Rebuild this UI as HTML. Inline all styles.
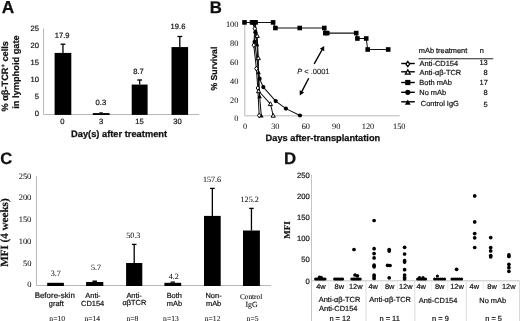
<!DOCTYPE html>
<html><head><meta charset="utf-8"><style>
html,body{margin:0;padding:0;background:#fff;}
svg{display:block;text-rendering:geometricPrecision;will-change:transform;}
</style></head><body>
<svg width="520" height="321" viewBox="0 0 520 321">
<rect width="520" height="321" fill="#fff"/>
<text x="1.87" y="13.42" font-family="Liberation Sans, sans-serif" font-size="17.3" font-weight="bold" fill="#111" stroke="#111" stroke-width="0.25" >A</text>
<line x1="43.5" y1="28.5" x2="43.5" y2="114.5" stroke="#b8b8b8" stroke-width="1"/>
<line x1="43.5" y1="114.5" x2="199.2" y2="114.5" stroke="#b8b8b8" stroke-width="1"/>
<text x="30.57" y="30.87" font-family="Liberation Sans, sans-serif" font-size="7.6" font-weight="normal" fill="#111" stroke="#111" stroke-width="0.2" >25</text>
<text x="30.53" y="47.97" font-family="Liberation Sans, sans-serif" font-size="7.6" font-weight="normal" fill="#111" stroke="#111" stroke-width="0.2" >20</text>
<text x="30.57" y="65.03" font-family="Liberation Sans, sans-serif" font-size="7.6" font-weight="normal" fill="#111" stroke="#111" stroke-width="0.2" >15</text>
<text x="30.53" y="82.17" font-family="Liberation Sans, sans-serif" font-size="7.6" font-weight="normal" fill="#111" stroke="#111" stroke-width="0.2" >10</text>
<text x="34.79" y="99.23" font-family="Liberation Sans, sans-serif" font-size="7.6" font-weight="normal" fill="#111" stroke="#111" stroke-width="0.2" >5</text>
<text x="34.75" y="116.37" font-family="Liberation Sans, sans-serif" font-size="7.6" font-weight="normal" fill="#111" stroke="#111" stroke-width="0.2" >0</text>
<rect x="54.6" y="52.92" width="16.7" height="61.98" fill="#000"/>
<line x1="62.95" y1="52.92" x2="62.95" y2="44.2" stroke="#000" stroke-width="1.3"/>
<line x1="60.55" y1="44.2" x2="65.35" y2="44.2" stroke="#000" stroke-width="1.3"/>
<text x="54.7" y="37.72" font-family="Liberation Sans, sans-serif" font-size="7.6" font-weight="normal" fill="#111" stroke="#111" stroke-width="0.2" >17.9</text>
<text x="60.27" y="123.82" font-family="Liberation Sans, sans-serif" font-size="7.6" font-weight="normal" fill="#111" stroke="#111" stroke-width="0.2" >0</text>
<rect x="92.8" y="113.1" width="16.8" height="1.9" fill="#000"/>
<rect x="99.4" y="112.3" width="3.4" height="0.9" fill="#000"/>
<text x="95.57" y="105.42" font-family="Liberation Sans, sans-serif" font-size="7.6" font-weight="normal" fill="#111" stroke="#111" stroke-width="0.2" >0.3</text>
<text x="99.09" y="123.82" font-family="Liberation Sans, sans-serif" font-size="7.6" font-weight="normal" fill="#111" stroke="#111" stroke-width="0.2" >3</text>
<rect x="131.7" y="84.57" width="15.9" height="30.33" fill="#000"/>
<line x1="139.65" y1="84.57" x2="139.65" y2="80" stroke="#000" stroke-width="1.3"/>
<line x1="137.25" y1="80" x2="142.05" y2="80" stroke="#000" stroke-width="1.3"/>
<text x="133.29" y="74.12" font-family="Liberation Sans, sans-serif" font-size="7.6" font-weight="normal" fill="#111" stroke="#111" stroke-width="0.2" >8.7</text>
<text x="135.25" y="123.78" font-family="Liberation Sans, sans-serif" font-size="7.6" font-weight="normal" fill="#111" stroke="#111" stroke-width="0.2" >15</text>
<rect x="171.5" y="47.08" width="16.6" height="67.82" fill="#000"/>
<line x1="179.8" y1="47.08" x2="179.8" y2="36.5" stroke="#000" stroke-width="1.3"/>
<line x1="177.4" y1="36.5" x2="182.2" y2="36.5" stroke="#000" stroke-width="1.3"/>
<text x="170.58" y="29.17" font-family="Liberation Sans, sans-serif" font-size="7.6" font-weight="normal" fill="#111" stroke="#111" stroke-width="0.2" >19.6</text>
<text x="173.16" y="123.82" font-family="Liberation Sans, sans-serif" font-size="7.6" font-weight="normal" fill="#111" stroke="#111" stroke-width="0.2" >30</text>
<text x="71" y="136.6" font-family="Liberation Sans, sans-serif" font-size="9.3" font-weight="bold" fill="#111" stroke="#111" stroke-width="0.25" >Day(s) after treatment</text>
<text transform="translate(7.9,111.5) rotate(-90)" font-family="Liberation Sans, sans-serif" font-size="9.2" font-weight="bold" fill="#111" stroke="#111" stroke-width="0.2">% αβ-TCR<tspan font-size="6" dy="-3.2">+</tspan><tspan dy="3.2"> cells</tspan></text>
<text transform="translate(18.5,108.8) rotate(-90)" font-family="Liberation Sans, sans-serif" font-size="9.25" font-weight="bold" fill="#111" stroke="#111" stroke-width="0.2">in lymphoid gate</text>
<text x="209.68" y="13.4" font-family="Liberation Sans, sans-serif" font-size="16.8" font-weight="bold" fill="#111" stroke="#111" stroke-width="0.25" >B</text>
<line x1="244.8" y1="22.4" x2="244.8" y2="115.8" stroke="#b8b8b8" stroke-width="1"/>
<line x1="244.8" y1="115.8" x2="399.6" y2="115.8" stroke="#b8b8b8" stroke-width="1"/>
<text x="225.88" y="27.12" font-family="Liberation Serif, serif" font-size="8.3" font-weight="normal" fill="#111" stroke="#111" stroke-width="0.05" >100</text>
<text x="230.03" y="46.02" font-family="Liberation Serif, serif" font-size="8.3" font-weight="normal" fill="#111" stroke="#111" stroke-width="0.05" >80</text>
<text x="230.03" y="65.02" font-family="Liberation Serif, serif" font-size="8.3" font-weight="normal" fill="#111" stroke="#111" stroke-width="0.05" >60</text>
<text x="230.03" y="83.62" font-family="Liberation Serif, serif" font-size="8.3" font-weight="normal" fill="#111" stroke="#111" stroke-width="0.05" >40</text>
<text x="230.03" y="102.62" font-family="Liberation Serif, serif" font-size="8.3" font-weight="normal" fill="#111" stroke="#111" stroke-width="0.05" >20</text>
<text x="234.18" y="120.92" font-family="Liberation Serif, serif" font-size="8.3" font-weight="normal" fill="#111" stroke="#111" stroke-width="0.05" >0</text>
<text x="243.12" y="128.82" font-family="Liberation Serif, serif" font-size="8.3" font-weight="normal" fill="#111" stroke="#111" stroke-width="0.05" >0</text>
<text x="271.23" y="128.82" font-family="Liberation Serif, serif" font-size="8.3" font-weight="normal" fill="#111" stroke="#111" stroke-width="0.05" >30</text>
<text x="301.65" y="128.82" font-family="Liberation Serif, serif" font-size="8.3" font-weight="normal" fill="#111" stroke="#111" stroke-width="0.05" >60</text>
<text x="332.09" y="128.82" font-family="Liberation Serif, serif" font-size="8.3" font-weight="normal" fill="#111" stroke="#111" stroke-width="0.05" >90</text>
<text x="361.79" y="128.82" font-family="Liberation Serif, serif" font-size="8.3" font-weight="normal" fill="#111" stroke="#111" stroke-width="0.05" >120</text>
<text x="392.99" y="128.82" font-family="Liberation Serif, serif" font-size="8.3" font-weight="normal" fill="#111" stroke="#111" stroke-width="0.05" >150</text>
<text x="265.6" y="140.5" font-family="Liberation Sans, sans-serif" font-size="9.25" font-weight="bold" fill="#111" stroke="#111" stroke-width="0.25" >Days after-transplantation</text>
<text transform="translate(217.4,90.6) rotate(-90)" font-family="Liberation Sans, sans-serif" font-size="8.7" font-weight="bold" fill="#111" stroke="#111" stroke-width="0.2">% Survival</text>
<polyline points="244.5,22.4 252,22.4 253.8,22.4 255.6,22.4 273.1,22.4 275.4,28 299.7,28 324.3,28 325.3,33.1 327.2,33.1 356.2,33.1 357.4,38.5 366.2,38.5 367.7,49.5 388.2,49.5" fill="none" stroke="#111" stroke-width="1.05" stroke-linejoin="round"/>
<polyline points="244.5,22.4 252.5,22.4 254.8,28.7 253.8,45.2 256.4,68.6 257.8,88 259.2,115.5" fill="none" stroke="#111" stroke-width="1.05" stroke-linejoin="round"/>
<polyline points="244.5,22.4 253.5,22.4 255.4,32.2 254.6,41.9 259.6,78.7 263.3,87.1 275.7,101.1 285.9,108.6 300,115.5" fill="none" stroke="#111" stroke-width="1.05" stroke-linejoin="round"/>
<polyline points="244.5,22.4 255,22.4 257.2,35.7 258.3,58 258.6,91 270.4,103.9 273.2,115.5" fill="none" stroke="#111" stroke-width="1.05" stroke-linejoin="round"/>
<polyline points="244.5,22.4 254.5,22.4 257,44.4 258.6,72.4 259.6,96.4 261.3,115.7" fill="none" stroke="#111" stroke-width="1.05" stroke-linejoin="round"/>
<rect x="242.2" y="20.1" width="4.6" height="4.6" fill="#000"/>
<rect x="249.7" y="20.1" width="4.6" height="4.6" fill="#000"/>
<rect x="251.5" y="20.1" width="4.6" height="4.6" fill="#000"/>
<rect x="253.3" y="20.1" width="4.6" height="4.6" fill="#000"/>
<rect x="270.8" y="20.1" width="4.6" height="4.6" fill="#000"/>
<rect x="273.1" y="25.7" width="4.6" height="4.6" fill="#000"/>
<rect x="297.4" y="25.7" width="4.6" height="4.6" fill="#000"/>
<rect x="322" y="25.7" width="4.6" height="4.6" fill="#000"/>
<rect x="323" y="30.8" width="4.6" height="4.6" fill="#000"/>
<rect x="324.9" y="30.8" width="4.6" height="4.6" fill="#000"/>
<rect x="353.9" y="30.8" width="4.6" height="4.6" fill="#000"/>
<rect x="355.1" y="36.2" width="4.6" height="4.6" fill="#000"/>
<rect x="363.9" y="36.2" width="4.6" height="4.6" fill="#000"/>
<rect x="365.4" y="47.2" width="4.6" height="4.6" fill="#000"/>
<rect x="385.9" y="47.2" width="4.6" height="4.6" fill="#000"/>
<circle cx="255.4" cy="32.2" r="2.1" fill="#000"/>
<circle cx="254.6" cy="41.9" r="2.1" fill="#000"/>
<circle cx="259.6" cy="78.7" r="2.1" fill="#000"/>
<circle cx="263.3" cy="87.1" r="2.1" fill="#000"/>
<circle cx="275.7" cy="101.1" r="2.1" fill="#000"/>
<circle cx="285.9" cy="108.6" r="2.1" fill="#000"/>
<circle cx="300" cy="115.5" r="2.1" fill="#000"/>
<polygon points="257,42.12 259.28,46.3 254.72,46.3" fill="#000"/>
<polygon points="258.6,70.12 260.88,74.3 256.32,74.3" fill="#000"/>
<polygon points="259.6,94.12 261.88,98.3 257.32,98.3" fill="#000"/>
<polygon points="261.3,113.42 263.58,117.6 259.02,117.6" fill="#000"/>
<polygon points="257.2,33.61 259.29,37.41 255.11,37.41" fill="#fff" stroke="#000" stroke-width="1.0"/>
<polygon points="258.3,55.91 260.39,59.71 256.21,59.71" fill="#fff" stroke="#000" stroke-width="1.0"/>
<polygon points="258.6,88.91 260.69,92.71 256.51,92.71" fill="#fff" stroke="#000" stroke-width="1.0"/>
<polygon points="270.4,101.81 272.49,105.61 268.31,105.61" fill="#fff" stroke="#000" stroke-width="1.0"/>
<polygon points="273.2,113.41 275.29,117.21 271.11,117.21" fill="#fff" stroke="#000" stroke-width="1.0"/>
<polygon points="254.8,26.3 256.5,28.7 254.8,31.1 253.1,28.7" fill="#fff" stroke="#000" stroke-width="1.0"/>
<polygon points="253.8,42.8 255.5,45.2 253.8,47.6 252.1,45.2" fill="#fff" stroke="#000" stroke-width="1.0"/>
<polygon points="256.4,66.2 258.1,68.6 256.4,71 254.7,68.6" fill="#fff" stroke="#000" stroke-width="1.0"/>
<polygon points="257.8,85.6 259.5,88 257.8,90.4 256.1,88" fill="#fff" stroke="#000" stroke-width="1.0"/>
<polygon points="259.2,113.1 260.9,115.5 259.2,117.9 257.5,115.5" fill="#fff" stroke="#000" stroke-width="1.0"/>
<line x1="314.2" y1="63.9" x2="322.25" y2="49.49" stroke="#000" stroke-width="1.4"/>
<polygon points="324.2,46 324.19,51.15 319.82,48.71" fill="#000"/>
<line x1="308.7" y1="78.2" x2="301.64" y2="91.85" stroke="#000" stroke-width="1.4"/>
<polygon points="299.8,95.4 299.65,90.25 304.09,92.55" fill="#000"/>
<text x="297.2" y="73.8" font-family="Liberation Sans, sans-serif" font-size="7.5" fill="#111" stroke="#111" stroke-width="0.1"><tspan font-style="italic">P</tspan> &lt; .0001</text>
<text x="418.82" y="53.4" font-family="Liberation Sans, sans-serif" font-size="7.4" font-weight="normal" fill="#111" stroke="#111" stroke-width="0.2" >mAb treatment</text>
<text x="479.82" y="53.4" font-family="Liberation Sans, sans-serif" font-size="7.4" font-weight="normal" fill="#111" stroke="#111" stroke-width="0.2" >n</text>
<line x1="418.4" y1="58.8" x2="493.2" y2="58.8" stroke="#222" stroke-width="1.1"/>
<line x1="401.2" y1="63.5" x2="414.8" y2="63.5" stroke="#000" stroke-width="1.4"/>
<polygon points="407.8,61.46 409.67,64.1 407.8,66.74 405.93,64.1" fill="#fff" stroke="#000" stroke-width="1.3"/>
<text x="419.6" y="65.7" font-family="Liberation Sans, sans-serif" font-size="7.45" font-weight="normal" fill="#111" stroke="#111" stroke-width="0.2" >Anti-CD154</text>
<text x="479.43" y="65.27" font-family="Liberation Sans, sans-serif" font-size="7.45" font-weight="normal" fill="#111" stroke="#111" stroke-width="0.2" >13</text>
<line x1="401.2" y1="71.8" x2="414.8" y2="71.8" stroke="#000" stroke-width="1.4"/>
<polygon points="407.8,69.73 410.17,74.03 405.44,74.03" fill="#fff" stroke="#000" stroke-width="1.3"/>
<text x="419.6" y="74.9" font-family="Liberation Sans, sans-serif" font-size="7.45" font-weight="normal" fill="#111" stroke="#111" stroke-width="0.2" >Anti-αβ-TCR</text>
<text x="483.56" y="75.37" font-family="Liberation Sans, sans-serif" font-size="7.45" font-weight="normal" fill="#111" stroke="#111" stroke-width="0.2" >8</text>
<line x1="401.2" y1="82.5" x2="414.8" y2="82.5" stroke="#000" stroke-width="1.4"/>
<rect x="405.2" y="79.9" width="5.2" height="5.2" fill="#000"/>
<text x="419.3" y="84.6" font-family="Liberation Sans, sans-serif" font-size="7.45" font-weight="normal" fill="#111" stroke="#111" stroke-width="0.2" >Both mAb</text>
<text x="479.5" y="85.37" font-family="Liberation Sans, sans-serif" font-size="7.45" font-weight="normal" fill="#111" stroke="#111" stroke-width="0.2" >17</text>
<line x1="401.2" y1="92.3" x2="414.8" y2="92.3" stroke="#000" stroke-width="1.4"/>
<circle cx="407.8" cy="92.3" r="2.6" fill="#000"/>
<text x="419.3" y="94.7" font-family="Liberation Sans, sans-serif" font-size="7.45" font-weight="normal" fill="#111" stroke="#111" stroke-width="0.2" >No mAb</text>
<text x="483.56" y="95.17" font-family="Liberation Sans, sans-serif" font-size="7.45" font-weight="normal" fill="#111" stroke="#111" stroke-width="0.2" >8</text>
<line x1="401.2" y1="101.8" x2="414.8" y2="101.8" stroke="#000" stroke-width="1.4"/>
<polygon points="407.8,99.42 410.68,104.7 404.92,104.7" fill="#000"/>
<text x="420.83" y="106" font-family="Liberation Sans, sans-serif" font-size="7.45" font-weight="normal" fill="#111" stroke="#111" stroke-width="0.2" >Control IgG</text>
<text x="483.56" y="107.33" font-family="Liberation Sans, sans-serif" font-size="7.45" font-weight="normal" fill="#111" stroke="#111" stroke-width="0.2" >5</text>
<text x="0.29" y="163.99" font-family="Liberation Sans, sans-serif" font-size="16.5" font-weight="bold" fill="#111" stroke="#111" stroke-width="0.25" >C</text>
<line x1="36.5" y1="176.2" x2="36.5" y2="285.5" stroke="#b8b8b8" stroke-width="1"/>
<line x1="36.5" y1="285.5" x2="271.1" y2="285.5" stroke="#b8b8b8" stroke-width="1"/>
<text x="18.74" y="178.55" font-family="Liberation Serif, serif" font-size="8.4" font-weight="normal" fill="#111" stroke="#111" stroke-width="0.05" >250</text>
<text x="18.74" y="200.45" font-family="Liberation Serif, serif" font-size="8.4" font-weight="normal" fill="#111" stroke="#111" stroke-width="0.05" >200</text>
<text x="18.74" y="222.05" font-family="Liberation Serif, serif" font-size="8.4" font-weight="normal" fill="#111" stroke="#111" stroke-width="0.05" >150</text>
<text x="18.74" y="243.75" font-family="Liberation Serif, serif" font-size="8.4" font-weight="normal" fill="#111" stroke="#111" stroke-width="0.05" >100</text>
<text x="22.94" y="265.55" font-family="Liberation Serif, serif" font-size="8.4" font-weight="normal" fill="#111" stroke="#111" stroke-width="0.05" >50</text>
<text x="27.14" y="287.35" font-family="Liberation Serif, serif" font-size="8.4" font-weight="normal" fill="#111" stroke="#111" stroke-width="0.05" >0</text>
<text transform="translate(8.35,266.8) rotate(-90)" font-family="Liberation Serif, serif" font-size="11.1" font-weight="bold" fill="#111" stroke="#111" stroke-width="0.2">MFI (4 weeks)</text>
<rect x="47.2" y="282.8" width="16.7" height="3.2" fill="#000"/>
<text x="50.63" y="276.01" font-family="Liberation Serif, serif" font-size="8.1" font-weight="normal" fill="#111" stroke="#111" stroke-width="0.06" >3.7</text>
<rect x="86.1" y="282" width="17.2" height="4" fill="#000"/>
<rect x="92.5" y="280.5" width="4.4" height="1.5" fill="#000"/>
<text x="90.97" y="270.09" font-family="Liberation Serif, serif" font-size="8.1" font-weight="normal" fill="#111" stroke="#111" stroke-width="0.06" >5.7</text>
<rect x="126.1" y="263" width="16.2" height="23" fill="#000"/>
<line x1="134.2" y1="263" x2="134.2" y2="244.4" stroke="#000" stroke-width="1.3"/>
<line x1="131.9" y1="244.4" x2="136.5" y2="244.4" stroke="#000" stroke-width="1.3"/>
<text x="126.13" y="237.83" font-family="Liberation Serif, serif" font-size="8.1" font-weight="normal" fill="#111" stroke="#111" stroke-width="0.06" >50.3</text>
<rect x="164.4" y="282.8" width="16.8" height="3.2" fill="#000"/>
<rect x="170.6" y="281.5" width="4.4" height="1.3" fill="#000"/>
<text x="168.73" y="278.81" font-family="Liberation Serif, serif" font-size="8.1" font-weight="normal" fill="#111" stroke="#111" stroke-width="0.06" >4.2</text>
<rect x="204" y="215.9" width="16.7" height="70.1" fill="#000"/>
<line x1="212.35" y1="215.9" x2="212.35" y2="188.4" stroke="#000" stroke-width="1.3"/>
<line x1="210.05" y1="188.4" x2="214.65" y2="188.4" stroke="#000" stroke-width="1.3"/>
<text x="202.96" y="182.06" font-family="Liberation Serif, serif" font-size="8.1" font-weight="normal" fill="#111" stroke="#111" stroke-width="0.06" >157.6</text>
<rect x="243" y="230.5" width="16.9" height="55.5" fill="#000"/>
<line x1="251.45" y1="230.5" x2="251.45" y2="208.4" stroke="#000" stroke-width="1.3"/>
<line x1="249.15" y1="208.4" x2="253.75" y2="208.4" stroke="#000" stroke-width="1.3"/>
<text x="240.57" y="201.61" font-family="Liberation Serif, serif" font-size="8.1" font-weight="normal" fill="#111" stroke="#111" stroke-width="0.06" >125.2</text>
<text x="34.66" y="297.84" font-family="Liberation Sans, sans-serif" font-size="7.943" font-weight="normal" fill="#111" stroke="#111" stroke-width="0.2" >Before-skin</text>
<text x="48.87" y="305.92" font-family="Liberation Sans, sans-serif" font-size="7.45" font-weight="normal" fill="#111" stroke="#111" stroke-width="0.2" >graft</text>
<text x="85.29" y="297.66" font-family="Liberation Sans, sans-serif" font-size="7.45" font-weight="normal" fill="#111" stroke="#111" stroke-width="0.2" >Anti-</text>
<text x="81.04" y="305.77" font-family="Liberation Sans, sans-serif" font-size="7.45" font-weight="normal" fill="#111" stroke="#111" stroke-width="0.2" >CD154</text>
<text x="126.39" y="297.66" font-family="Liberation Sans, sans-serif" font-size="7.45" font-weight="normal" fill="#111" stroke="#111" stroke-width="0.2" >Anti-</text>
<text x="122.43" y="305.12" font-family="Liberation Sans, sans-serif" font-size="7.45" font-weight="normal" fill="#111" stroke="#111" stroke-width="0.2" >αβTCR</text>
<text x="166.64" y="297.66" font-family="Liberation Sans, sans-serif" font-size="7.45" font-weight="normal" fill="#111" stroke="#111" stroke-width="0.2" >Both</text>
<text x="166.8" y="306.46" font-family="Liberation Sans, sans-serif" font-size="7.45" font-weight="normal" fill="#111" stroke="#111" stroke-width="0.2" >mAb</text>
<text x="205.49" y="297.53" font-family="Liberation Sans, sans-serif" font-size="7.45" font-weight="normal" fill="#111" stroke="#111" stroke-width="0.2" >Non-</text>
<text x="205.95" y="306.46" font-family="Liberation Sans, sans-serif" font-size="7.45" font-weight="normal" fill="#111" stroke="#111" stroke-width="0.2" >mAb</text>
<text x="240.01" y="298.79" font-family="Liberation Serif, serif" font-size="7.267" font-weight="normal" fill="#111" stroke="#111" stroke-width="0.1" >Control</text>
<text x="245.42" y="307.34" font-family="Liberation Serif, serif" font-size="7.8" font-weight="normal" fill="#111" stroke="#111" stroke-width="0.1" >IgG</text>
<text x="49.33" y="321.09" font-family="Liberation Serif, serif" font-size="7.6" font-weight="normal" fill="#111" stroke="#111" stroke-width="0.05" >n=10</text>
<text x="84.48" y="321.11" font-family="Liberation Serif, serif" font-size="7.6" font-weight="normal" fill="#111" stroke="#111" stroke-width="0.05" >n=14</text>
<text x="126.38" y="321.09" font-family="Liberation Serif, serif" font-size="7.6" font-weight="normal" fill="#111" stroke="#111" stroke-width="0.05" >n=8</text>
<text x="163.08" y="321.07" font-family="Liberation Serif, serif" font-size="7.6" font-weight="normal" fill="#111" stroke="#111" stroke-width="0.05" >n=13</text>
<text x="204.79" y="321.11" font-family="Liberation Serif, serif" font-size="7.6" font-weight="normal" fill="#111" stroke="#111" stroke-width="0.05" >n=12</text>
<text x="246.58" y="321.05" font-family="Liberation Serif, serif" font-size="7.6" font-weight="normal" fill="#111" stroke="#111" stroke-width="0.05" >n=5</text>
<text x="283.89" y="164.35" font-family="Liberation Sans, sans-serif" font-size="16.8" font-weight="bold" fill="#111" stroke="#111" stroke-width="0.25" >D</text>
<line x1="311.5" y1="174.5" x2="311.5" y2="321" stroke="#c4c4c4" stroke-width="1"/>
<line x1="311.5" y1="280.8" x2="520" y2="280.8" stroke="#c4c4c4" stroke-width="1"/>
<text x="297.11" y="177.62" font-family="Liberation Sans, sans-serif" font-size="7.6" font-weight="normal" fill="#111" stroke="#111" stroke-width="0.2" >250</text>
<text x="297.11" y="198.82" font-family="Liberation Sans, sans-serif" font-size="7.6" font-weight="normal" fill="#111" stroke="#111" stroke-width="0.2" >200</text>
<text x="297.11" y="219.92" font-family="Liberation Sans, sans-serif" font-size="7.6" font-weight="normal" fill="#111" stroke="#111" stroke-width="0.2" >150</text>
<text x="297.11" y="241.22" font-family="Liberation Sans, sans-serif" font-size="7.6" font-weight="normal" fill="#111" stroke="#111" stroke-width="0.2" >100</text>
<text x="301.33" y="262.42" font-family="Liberation Sans, sans-serif" font-size="7.6" font-weight="normal" fill="#111" stroke="#111" stroke-width="0.2" >50</text>
<text x="305.55" y="283.72" font-family="Liberation Sans, sans-serif" font-size="7.6" font-weight="normal" fill="#111" stroke="#111" stroke-width="0.2" >0</text>
<text transform="translate(290.0,238.8) rotate(-90)" font-family="Liberation Serif, serif" font-size="9" font-weight="bold" fill="#111" stroke="#111" stroke-width="0.2">MFI</text>
<line x1="366" y1="281.2" x2="366" y2="321" stroke="#dadada" stroke-width="1"/>
<line x1="414.8" y1="281.2" x2="414.8" y2="321" stroke="#dadada" stroke-width="1"/>
<line x1="466.3" y1="281.2" x2="466.3" y2="321" stroke="#dadada" stroke-width="1"/>
<line x1="519.5" y1="281.2" x2="519.5" y2="321" stroke="#dadada" stroke-width="1"/>
<line x1="328.9" y1="281.2" x2="328.9" y2="291" stroke="#ececec" stroke-width="1"/>
<line x1="347.2" y1="281.2" x2="347.2" y2="291" stroke="#ececec" stroke-width="1"/>
<line x1="382" y1="281.2" x2="382" y2="291" stroke="#ececec" stroke-width="1"/>
<line x1="397.5" y1="281.2" x2="397.5" y2="291" stroke="#ececec" stroke-width="1"/>
<line x1="431.4" y1="281.2" x2="431.4" y2="291" stroke="#ececec" stroke-width="1"/>
<line x1="447.8" y1="281.2" x2="447.8" y2="291" stroke="#ececec" stroke-width="1"/>
<line x1="483.3" y1="281.2" x2="483.3" y2="291" stroke="#ececec" stroke-width="1"/>
<line x1="501" y1="281.2" x2="501" y2="291" stroke="#ececec" stroke-width="1"/>
<text x="316.19" y="288.6" font-family="Liberation Sans, sans-serif" font-size="7.4" font-weight="normal" fill="#111" stroke="#111" stroke-width="0.2" >4w</text>
<text x="334.6" y="288.6" font-family="Liberation Sans, sans-serif" font-size="7.4" font-weight="normal" fill="#111" stroke="#111" stroke-width="0.2" >8w</text>
<text x="348.93" y="288.6" font-family="Liberation Sans, sans-serif" font-size="7.4" font-weight="normal" fill="#111" stroke="#111" stroke-width="0.2" >12w</text>
<text x="368.49" y="288.6" font-family="Liberation Sans, sans-serif" font-size="7.4" font-weight="normal" fill="#111" stroke="#111" stroke-width="0.2" >4w</text>
<text x="385" y="288.6" font-family="Liberation Sans, sans-serif" font-size="7.4" font-weight="normal" fill="#111" stroke="#111" stroke-width="0.2" >8w</text>
<text x="398.93" y="288.6" font-family="Liberation Sans, sans-serif" font-size="7.4" font-weight="normal" fill="#111" stroke="#111" stroke-width="0.2" >12w</text>
<text x="416.49" y="288.6" font-family="Liberation Sans, sans-serif" font-size="7.4" font-weight="normal" fill="#111" stroke="#111" stroke-width="0.2" >4w</text>
<text x="434.9" y="288.6" font-family="Liberation Sans, sans-serif" font-size="7.4" font-weight="normal" fill="#111" stroke="#111" stroke-width="0.2" >8w</text>
<text x="450.23" y="288.6" font-family="Liberation Sans, sans-serif" font-size="7.4" font-weight="normal" fill="#111" stroke="#111" stroke-width="0.2" >12w</text>
<text x="469.59" y="288.6" font-family="Liberation Sans, sans-serif" font-size="7.4" font-weight="normal" fill="#111" stroke="#111" stroke-width="0.2" >4w</text>
<text x="487.3" y="288.6" font-family="Liberation Sans, sans-serif" font-size="7.4" font-weight="normal" fill="#111" stroke="#111" stroke-width="0.2" >8w</text>
<text x="501.93" y="288.6" font-family="Liberation Sans, sans-serif" font-size="7.4" font-weight="normal" fill="#111" stroke="#111" stroke-width="0.2" >12w</text>
<text x="318.73" y="302.32" font-family="Liberation Sans, sans-serif" font-size="7.45" font-weight="normal" fill="#111" stroke="#111" stroke-width="0.2" >Anti-αβ-TCR</text>
<text x="319.05" y="311.06" font-family="Liberation Sans, sans-serif" font-size="7.45" font-weight="normal" fill="#111" stroke="#111" stroke-width="0.2" >Anti-CD154</text>
<text x="329.4" y="321.11" font-family="Liberation Sans, sans-serif" font-size="7.45" font-weight="normal" fill="#111" stroke="#111" stroke-width="0.2" >n = 12</text>
<text x="369.33" y="302.32" font-family="Liberation Sans, sans-serif" font-size="7.45" font-weight="normal" fill="#111" stroke="#111" stroke-width="0.2" >Anti-αβ-TCR</text>
<text x="379.49" y="321.07" font-family="Liberation Sans, sans-serif" font-size="7.45" font-weight="normal" fill="#111" stroke="#111" stroke-width="0.2" >n = 11</text>
<text x="418.85" y="303.06" font-family="Liberation Sans, sans-serif" font-size="7.45" font-weight="normal" fill="#111" stroke="#111" stroke-width="0.2" >Anti-CD154</text>
<text x="432.09" y="321.07" font-family="Liberation Sans, sans-serif" font-size="7.45" font-weight="normal" fill="#111" stroke="#111" stroke-width="0.2" >n = 9</text>
<text x="479.3" y="303.06" font-family="Liberation Sans, sans-serif" font-size="7.45" font-weight="normal" fill="#111" stroke="#111" stroke-width="0.2" >No mAb</text>
<text x="485.23" y="321.03" font-family="Liberation Sans, sans-serif" font-size="7.45" font-weight="normal" fill="#111" stroke="#111" stroke-width="0.2" >n = 5</text>
<circle cx="319.5" cy="277.4" r="1.85" fill="#000"/>
<circle cx="321" cy="277.6" r="1.85" fill="#000"/>
<circle cx="355" cy="275" r="1.85" fill="#000"/>
<circle cx="357.4" cy="275.8" r="1.85" fill="#000"/>
<circle cx="354" cy="249.5" r="1.85" fill="#000"/>
<circle cx="374.1" cy="220.5" r="1.85" fill="#000"/>
<circle cx="374.1" cy="248.7" r="1.85" fill="#000"/>
<circle cx="374.1" cy="253.6" r="1.85" fill="#000"/>
<circle cx="374.1" cy="257.9" r="1.85" fill="#000"/>
<circle cx="374.1" cy="265.2" r="1.85" fill="#000"/>
<circle cx="374.1" cy="266.8" r="1.85" fill="#000"/>
<circle cx="374.1" cy="275" r="1.85" fill="#000"/>
<circle cx="374.1" cy="276.7" r="1.85" fill="#000"/>
<circle cx="374.1" cy="278.5" r="1.85" fill="#000"/>
<circle cx="389.2" cy="249.5" r="1.85" fill="#000"/>
<circle cx="389.2" cy="251.1" r="1.85" fill="#000"/>
<circle cx="387.6" cy="265.3" r="1.85" fill="#000"/>
<circle cx="390" cy="265.5" r="1.85" fill="#000"/>
<circle cx="389.2" cy="277.8" r="1.85" fill="#000"/>
<circle cx="404.6" cy="247.3" r="1.85" fill="#000"/>
<circle cx="404.6" cy="254" r="1.85" fill="#000"/>
<circle cx="404.6" cy="260.7" r="1.85" fill="#000"/>
<circle cx="404.6" cy="262.1" r="1.85" fill="#000"/>
<circle cx="404.6" cy="269.7" r="1.85" fill="#000"/>
<circle cx="404.6" cy="275" r="1.85" fill="#000"/>
<circle cx="404.6" cy="277.5" r="1.85" fill="#000"/>
<circle cx="404.6" cy="279" r="1.85" fill="#000"/>
<circle cx="456.6" cy="269.3" r="1.85" fill="#000"/>
<circle cx="474.7" cy="195.9" r="1.85" fill="#000"/>
<circle cx="474.7" cy="221.9" r="1.85" fill="#000"/>
<circle cx="474.7" cy="233.6" r="1.85" fill="#000"/>
<circle cx="474.7" cy="237.8" r="1.85" fill="#000"/>
<circle cx="474.7" cy="247.5" r="1.85" fill="#000"/>
<circle cx="490.7" cy="237.6" r="1.85" fill="#000"/>
<circle cx="490.7" cy="247.5" r="1.85" fill="#000"/>
<circle cx="490.7" cy="250.9" r="1.85" fill="#000"/>
<circle cx="490.7" cy="255.6" r="1.85" fill="#000"/>
<circle cx="490.7" cy="256.8" r="1.85" fill="#000"/>
<circle cx="508.9" cy="254.9" r="1.85" fill="#000"/>
<circle cx="508.9" cy="256.5" r="1.85" fill="#000"/>
<circle cx="508.9" cy="264.3" r="1.85" fill="#000"/>
<circle cx="508.9" cy="267.7" r="1.85" fill="#000"/>
<circle cx="508.9" cy="271.3" r="1.85" fill="#000"/>
<circle cx="315.6" cy="279" r="1.55" fill="#000"/>
<circle cx="316.94" cy="279" r="1.55" fill="#000"/>
<circle cx="318.29" cy="279" r="1.55" fill="#000"/>
<circle cx="319.63" cy="279" r="1.55" fill="#000"/>
<circle cx="320.97" cy="279" r="1.55" fill="#000"/>
<circle cx="322.31" cy="279" r="1.55" fill="#000"/>
<circle cx="323.66" cy="279" r="1.55" fill="#000"/>
<circle cx="325" cy="279" r="1.55" fill="#000"/>
<circle cx="334.6" cy="279" r="1.55" fill="#000"/>
<circle cx="335.93" cy="279" r="1.55" fill="#000"/>
<circle cx="337.27" cy="279" r="1.55" fill="#000"/>
<circle cx="338.6" cy="279" r="1.55" fill="#000"/>
<circle cx="339.93" cy="279" r="1.55" fill="#000"/>
<circle cx="341.27" cy="279" r="1.55" fill="#000"/>
<circle cx="342.6" cy="279" r="1.55" fill="#000"/>
<circle cx="351.8" cy="279" r="1.55" fill="#000"/>
<circle cx="353.2" cy="279" r="1.55" fill="#000"/>
<circle cx="354.6" cy="279" r="1.55" fill="#000"/>
<circle cx="356" cy="279" r="1.55" fill="#000"/>
<circle cx="357.4" cy="279" r="1.55" fill="#000"/>
<circle cx="358.8" cy="279" r="1.55" fill="#000"/>
<circle cx="360.2" cy="279" r="1.55" fill="#000"/>
<circle cx="417.6" cy="279" r="1.55" fill="#000"/>
<circle cx="419.2" cy="279" r="1.55" fill="#000"/>
<circle cx="420.8" cy="279" r="1.55" fill="#000"/>
<circle cx="422.4" cy="279" r="1.55" fill="#000"/>
<circle cx="424" cy="279" r="1.55" fill="#000"/>
<circle cx="425.6" cy="279" r="1.55" fill="#000"/>
<circle cx="419.5" cy="277.6" r="1.55" fill="#000"/>
<circle cx="423" cy="277.6" r="1.55" fill="#000"/>
<circle cx="434.6" cy="279" r="1.55" fill="#000"/>
<circle cx="436.6" cy="279" r="1.55" fill="#000"/>
<circle cx="438.6" cy="279" r="1.55" fill="#000"/>
<circle cx="440.6" cy="279" r="1.55" fill="#000"/>
<circle cx="442.6" cy="279" r="1.55" fill="#000"/>
<circle cx="444.6" cy="279" r="1.55" fill="#000"/>
<circle cx="437.4" cy="276" r="1.55" fill="#000"/>
<circle cx="452" cy="279" r="1.55" fill="#000"/>
<circle cx="453.92" cy="279" r="1.55" fill="#000"/>
<circle cx="455.84" cy="279" r="1.55" fill="#000"/>
<circle cx="457.76" cy="279" r="1.55" fill="#000"/>
<circle cx="459.68" cy="279" r="1.55" fill="#000"/>
<circle cx="461.6" cy="279" r="1.55" fill="#000"/>
</svg>
</body></html>
